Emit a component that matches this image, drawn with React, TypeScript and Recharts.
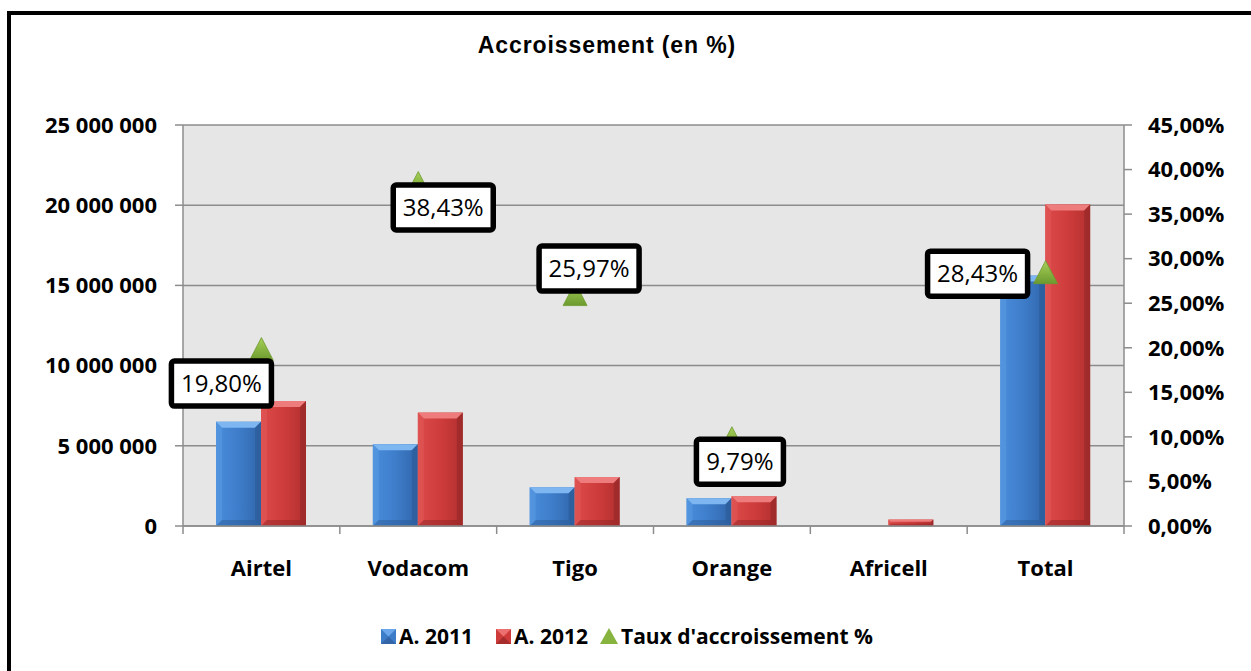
import React from 'react';
import {
  ComposedChart,
  Bar,
  Line,
  XAxis,
  YAxis,
  CartesianGrid,
  LabelList,
} from 'recharts';

// values
const categories = ['Airtel', 'Vodacom', 'Tigo', 'Orange', 'Africell', 'Total'];
const a2011 = [6500000, 5100000, 2410000, 1730000, 0, 15610000];
const a2012 = [7790000, 7070000, 3050000, 1850000, 400000, 20050000];
const rates: (number | null)[] = [19.8, 38.43, 25.97, 9.79, null, 28.43];
const leftTicks = [0, 5000000, 10000000, 15000000, 20000000, 25000000];
const rightTicks = [0, 5, 10, 15, 20, 25, 30, 35, 40, 45];
const seriesNames = ['A. 2011', 'A. 2012', "Taux d'accroissement %"];

const chartData = categories.map((name, i) => ({
  name,
  a2011: a2011[i],
  a2012: a2012[i],
  rate: rates[i],
}));

const W = 1251;
const H = 671;
const LEFT_W = 183;
const RIGHT_W = 127;
const TOP = 125;
const PLOT_BOTTOM = 526;
const XAXIS_H = 60;
const PLOT_W = W - LEFT_W - RIGHT_W;
const BAND = PLOT_W / categories.length;

const FONT = '"Open Sans", "Noto Sans", sans-serif';
const GRID = '#8c8c8c';

// where each label box sits relative to its triangle (as placed in the original)
const labelOffsets: Record<string, [number, number]> = {
  Airtel: [-40, 34],
  Vodacom: [25, 24],
  Tigo: [14, -26],
  Orange: [8, 23],
  Africell: [0, 0],
  Total: [-68, 1],
};

type Tone = { id: string; top: string; bottom: string; left: string; right: string };
const blue: Tone = { id: 'gBlue', top: '#7db6f0', bottom: '#2b5892', left: '#5a9ae2', right: '#2c5a96' };
const red: Tone = { id: 'gRed', top: '#ee7c7c', bottom: '#8c2424', left: '#e15a5a', right: '#922828' };

const makeBevelBar = (tone: Tone) => (props: any) => {
  const { x, y, width, height } = props;
  if (!height || height <= 0.5) return <g />;
  const b = Math.min(6, height / 3, width / 4);
  const r = x + width;
  const bt = y + height;
  return (
    <g>
      <rect x={x} y={y} width={width} height={height} fill={`url(#${tone.id})`} />
      <polygon points={`${x},${y} ${r},${y} ${r - b},${y + b} ${x + b},${y + b}`} fill={tone.top} />
      <polygon points={`${x},${y} ${x + b},${y + b} ${x + b},${bt - b} ${x},${bt}`} fill={tone.left} opacity={0.55} />
      <polygon points={`${r},${y} ${r - b},${y + b} ${r - b},${bt - b} ${r},${bt}`} fill={tone.right} opacity={0.6} />
      <polygon points={`${x},${bt} ${x + b},${bt - b} ${r - b},${bt - b} ${r},${bt}`} fill={tone.bottom} opacity={0.45} />
    </g>
  );
};

const renderTriangle = (props: any) => {
  const { cx, cy, index, value } = props;
  if (value == null || cy == null || isNaN(cy)) return <g key={`t-${index}`} />;
  return (
    <polygon
      key={`t-${index}`}
      points={`${cx},${cy - 12} ${cx + 12},${cy + 11} ${cx - 12},${cy + 11}`}
      fill="url(#gGreen)"
      stroke="#6f9a30"
      strokeWidth={0.8}
    />
  );
};

const fmtRate = (v: number) => v.toFixed(2).replace('.', ',') + '%';

const renderRateLabel = (props: any) => {
  const { x, y, value, index } = props;
  if (value == null) return null;
  const text = fmtRate(Number(value));
  const [dx, dy] = labelOffsets[categories[index]] || [0, 0];
  const w = 22 + 13 * text.length;
  const h = 45;
  const cx = x + dx;
  const cy = y + dy;
  return (
    <g key={`l-${index}`}>
      <rect x={cx - w / 2} y={cy - h / 2} width={w} height={h} rx={3} fill="#fff" stroke="#000" strokeWidth={5.5} />
      <text x={cx} y={cy + 8.5} textAnchor="middle" fontFamily={FONT} fontSize={24} fill="#000">
        {text}
      </text>
    </g>
  );
};

const CategoryTick = (props: any) => {
  const { x, y, payload, index } = props;
  const last = index === categories.length - 1;
  return (
    <g>
      <line x1={x - BAND / 2} y1={y} x2={x - BAND / 2} y2={y + 8} stroke={GRID} strokeWidth={1.5} />
      {last && <line x1={x + BAND / 2} y1={y} x2={x + BAND / 2} y2={y + 8} stroke={GRID} strokeWidth={1.5} />}
      <text x={x} y={y + 50} textAnchor="middle" fontFamily={FONT} fontWeight={700} fontSize={22} fill="#000">
        {payload.value}
      </text>
    </g>
  );
};

const fmtMillions = (v: number) => String(v).replace(/\B(?=(\d{3})+(?!\d))/g, ' ');

const tickStyle = { fontFamily: FONT, fontWeight: 700, fontSize: 22, fill: '#000' };

const LegendIcon = ({ kind }: { kind: number }) => {
  if (kind === 2) {
    return (
      <svg width={18} height={16} style={{ display: 'block' }}>
        <polygon points="9,0 18,16 0,16" fill="#86b43e" />
      </svg>
    );
  }
  const c = kind === 0 ? ['#6aa6ea', '#3d7cc9', '#2b5892'] : ['#ec7070', '#cf3b3b', '#8c2424'];
  return (
    <svg width={15} height={15} style={{ display: 'block' }}>
      <rect x={0} y={0} width={15} height={15} fill={c[1]} />
      <polygon points="0,0 15,0 7.5,7.5" fill={c[0]} />
      <polygon points="0,15 15,15 7.5,7.5" fill={c[2]} opacity={0.6} />
    </svg>
  );
};

const legendLefts = [381, 496, 600];

export default function App() {
  return (
    <div style={{ position: 'absolute', left: 0, top: 0, width: W, height: H, overflow: 'hidden', background: '#fff' }}>
      <div
        style={{
          position: 'absolute',
          left: 7,
          top: 11,
          width: W + 40,
          height: H + 40,
          borderLeft: '4px solid #000',
          borderTop: '4px solid #000',
        }}
      />
      <div
        style={{
          position: 'absolute',
          left: 407,
          top: 30,
          width: 400,
          textAlign: 'center',
          fontFamily: '"Liberation Sans", Arial, sans-serif',
          fontWeight: 700,
          fontSize: 23,
          letterSpacing: 0.9,
          lineHeight: '30px',
          color: '#000',
        }}
      >
        Accroissement (en %)
      </div>
      <div style={{ position: 'absolute', left: 0, top: 0 }}>
        <ComposedChart
          width={W}
          height={H}
          data={chartData}
          margin={{ top: TOP, right: 0, left: 0, bottom: H - PLOT_BOTTOM - XAXIS_H }}
          barGap={0}
          barSize={45}
        >
          <defs>
            <linearGradient id="gBlue" x1="0" y1="0" x2="1" y2="0">
              <stop offset="0%" stopColor="#4a8ddb" />
              <stop offset="50%" stopColor="#3e7dca" />
              <stop offset="100%" stopColor="#3166ab" />
            </linearGradient>
            <linearGradient id="gRed" x1="0" y1="0" x2="1" y2="0">
              <stop offset="0%" stopColor="#dc4a4a" />
              <stop offset="50%" stopColor="#cf3c3c" />
              <stop offset="100%" stopColor="#b22f2f" />
            </linearGradient>
            <linearGradient id="gGreen" x1="0" y1="0" x2="0" y2="1">
              <stop offset="0%" stopColor="#a6d058" />
              <stop offset="100%" stopColor="#6c9a2e" />
            </linearGradient>
          </defs>
          <CartesianGrid yAxisId="left" vertical={false} stroke={GRID} strokeWidth={1.5} fill="#e6e6e6" fillOpacity={1} />
          <XAxis
            dataKey="name"
            height={XAXIS_H}
            tickLine={false}
            tickSize={0}
            tickMargin={0}
            axisLine={{ stroke: GRID, strokeWidth: 1.5 }}
            tick={<CategoryTick />}
            interval={0}
          />
          <YAxis
            yAxisId="left"
            width={LEFT_W}
            domain={[0, 25000000]}
            ticks={leftTicks}
            tickFormatter={fmtMillions}
            tickSize={8}
            tickMargin={18}
            tick={tickStyle}
            axisLine={{ stroke: GRID, strokeWidth: 1.5 }}
            tickLine={{ stroke: GRID, strokeWidth: 1.5 }}
            interval={0}
          />
          <YAxis
            yAxisId="right"
            orientation="right"
            width={RIGHT_W}
            domain={[0, 45]}
            ticks={rightTicks}
            tickFormatter={fmtRate}
            tickSize={8}
            tickMargin={16}
            tick={tickStyle}
            axisLine={{ stroke: GRID, strokeWidth: 1.5 }}
            tickLine={{ stroke: GRID, strokeWidth: 1.5 }}
            interval={0}
          />
          <Bar yAxisId="left" dataKey="a2011" name={seriesNames[0]} fill="#3e7dca" shape={makeBevelBar(blue)} isAnimationActive={false} />
          <Bar yAxisId="left" dataKey="a2012" name={seriesNames[1]} fill="#cf3c3c" shape={makeBevelBar(red)} isAnimationActive={false} />
          <Line
            yAxisId="right"
            dataKey="rate"
            name={seriesNames[2]}
            stroke="none"
            dot={renderTriangle}
            activeDot={false}
            isAnimationActive={false}
          >
            <LabelList dataKey="rate" content={renderRateLabel} />
          </Line>
        </ComposedChart>
      </div>
      {seriesNames.map((s, i) => (
        <div
          key={s}
          style={{
            position: 'absolute',
            left: legendLefts[i],
            top: 622,
            height: 28,
            display: 'flex',
            alignItems: 'center',
            gap: 3,
            fontFamily: FONT,
            fontWeight: 700,
            fontSize: 21,
            color: '#000',
            whiteSpace: 'nowrap',
          }}
        >
          <LegendIcon kind={i} />
          <span>{s}</span>
        </div>
      ))}
    </div>
  );
}
